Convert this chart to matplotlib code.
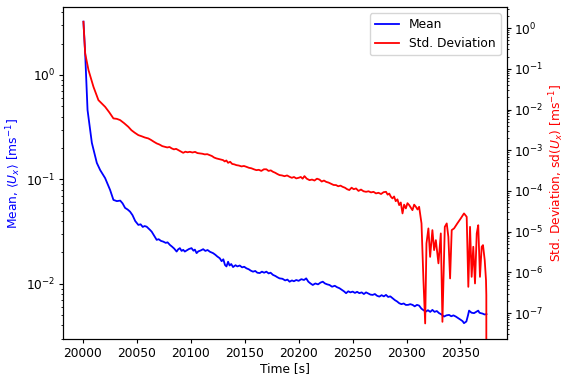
import matplotlib
matplotlib.use('Agg')
import matplotlib.pyplot as plt

# values
mean_time = [20000.5, 20002.1, 20004.3, 20008.3, 20012.9, 20016.0, 20020.6, 20025.2,
             20028.3, 20031.5, 20034.6, 20036.8,
             20039.1, 20041.5, 20043.7, 20046.0, 20048.5, 20051.4, 20053.5, 20055.5,
             20057.2, 20059.1, 20060.8, 20062.2, 20063.8, 20066.0, 20068.4, 20070.2,
             20072.4, 20074.5, 20076.8, 20078.5, 20080.7, 20082.5, 20084.6, 20086.9,
             20088.3, 20089.9, 20091.5, 20093.0, 20094.5, 20096.5, 20098.4, 20100.7,
             20102.5, 20103.8, 20105.4, 20107.0, 20109.2, 20111.5, 20113.5, 20115.6,
             20117.8, 20120.7, 20122.8, 20124.6, 20126.9, 20128.6, 20130.2, 20131.7,
             20133.1, 20134.6, 20136.0, 20137.5, 20139.2, 20141.5, 20143.2, 20145.4,
             20147.6, 20149.5, 20151.6, 20153.8, 20155.6, 20157.7, 20159.8, 20161.7,
             20163.9, 20166.0, 20168.0, 20170.1, 20172.2, 20174.0, 20176.2, 20178.5,
             20180.2, 20182.3, 20185.0, 20187.5, 20189.6, 20191.6, 20193.8, 20195.6,
             20197.8, 20200.0, 20202.5, 20205.0, 20207.0, 20209.0, 20211.0, 20213.1,
             20215.5, 20218.0, 20220.3, 20222.4, 20224.4, 20226.5, 20228.6, 20231.0,
             20233.5, 20235.6, 20237.8, 20239.8, 20242.0, 20244.0, 20246.0, 20248.0,
             20250.1, 20252.2, 20254.2, 20256.3, 20258.4, 20260.5, 20262.5, 20264.5,
             20266.6, 20268.6, 20270.7, 20272.7, 20274.8, 20276.9, 20279.0, 20281.0,
             20283.0, 20285.0, 20287.1, 20289.2, 20291.2, 20293.3, 20295.3, 20297.4,
             20299.4, 20301.5, 20303.5, 20305.6, 20307.6, 20309.7, 20311.7, 20313.8,
             20315.8, 20317.9, 20319.9, 20322.0, 20324.0, 20326.0, 20328.1, 20330.2,
             20332.5, 20334.8, 20337.0, 20339.5, 20341.5, 20343.5, 20345.7, 20348.0,
             20350.3, 20352.0, 20353.3, 20355.5, 20357.0, 20358.0, 20360.3, 20362.6,
             20364.5, 20366.5, 20367.6, 20368.8, 20370.5, 20372.3, 20374.1]
mean_vals = [3.24, 1.61, 0.462, 0.224, 0.144, 0.123, 0.103, 0.0794,
             0.0637, 0.0620, 0.0627, 0.0590,
             0.0534, 0.0515, 0.0492, 0.0455, 0.0400, 0.0367, 0.0372, 0.0351,
             0.0358, 0.0353, 0.0340, 0.0329, 0.0316, 0.0290, 0.0264, 0.0268,
             0.0258, 0.0254, 0.0247, 0.0250, 0.0236, 0.0228, 0.0218, 0.0204,
             0.0214, 0.0220, 0.0207, 0.0212, 0.0204, 0.0210, 0.0216, 0.0220,
             0.0208, 0.0213, 0.0197, 0.0205, 0.0209, 0.0215, 0.0207, 0.0211,
             0.0203, 0.0197, 0.0190, 0.0183, 0.0176, 0.0165, 0.0172, 0.0152,
             0.0147, 0.0163, 0.0150, 0.0155, 0.0145, 0.0151, 0.0147, 0.0150,
             0.0144, 0.0146, 0.0141, 0.0138, 0.0134, 0.0131, 0.0133, 0.0128,
             0.0127, 0.0131, 0.0128, 0.0131, 0.0126, 0.0128, 0.0122, 0.0119,
             0.0116, 0.0113, 0.0112, 0.0108, 0.0110, 0.0105, 0.0108, 0.0106,
             0.0109, 0.0107, 0.0111, 0.0109, 0.0113, 0.0105, 0.0101, 0.00977,
             0.0101, 0.0099, 0.0103, 0.0105, 0.0101, 0.0099, 0.00977, 0.0094,
             0.0096, 0.0093, 0.0091, 0.0088, 0.0085, 0.00815, 0.0085, 0.0083,
             0.00844, 0.0082, 0.0084, 0.00815, 0.0083, 0.0080, 0.0083, 0.0081,
             0.0079, 0.00785, 0.0080, 0.0077, 0.00756, 0.0078, 0.0076, 0.00785,
             0.0075, 0.0076, 0.0073, 0.0070, 0.0068, 0.00653, 0.0064, 0.0065,
             0.00629, 0.0063, 0.0064, 0.0063, 0.0061, 0.0063, 0.0062, 0.0058,
             0.0056, 0.00543, 0.0056, 0.0054, 0.00564, 0.0054, 0.0055, 0.00525,
             0.0051, 0.00487, 0.0050, 0.00505, 0.0049, 0.0050, 0.00487, 0.0047,
             0.00453, 0.0044, 0.00421, 0.00437, 0.0050, 0.00555, 0.0053, 0.00525,
             0.0054, 0.00555, 0.0053, 0.00525, 0.0052, 0.0051, 0.00513]

std_time = [20000.5, 20002.1, 20005.2, 20009.8, 20014.4, 20020.6, 20024.5, 20028.3,
            20031.4, 20034.5, 20038.3, 20042.1, 20045.0, 20048.0, 20051.4, 20054.5,
            20057.5, 20060.6, 20063.0, 20065.7, 20068.4, 20071.0, 20073.6, 20076.1,
            20078.2, 20080.3, 20082.3, 20084.4, 20086.4, 20088.4, 20090.7, 20093.0,
            20095.0, 20097.0, 20099.2, 20101.5, 20104.0, 20106.2, 20108.4, 20110.7,
            20113.0, 20115.3, 20117.6, 20119.6, 20121.7, 20123.8, 20125.8, 20127.9,
            20129.9, 20131.5, 20133.0, 20134.6, 20136.5, 20138.4, 20140.3, 20142.3,
            20144.6, 20147.0, 20149.3, 20151.6, 20153.9, 20156.2, 20158.5, 20160.8,
            20163.1, 20165.4, 20167.8, 20170.1, 20172.1, 20174.2, 20176.2, 20178.2,
            20180.3, 20182.3, 20184.6, 20186.9, 20189.3, 20191.6, 20193.7, 20195.7,
            20197.8, 20200.0, 20202.0, 20203.7, 20205.4, 20207.5, 20210.1, 20212.4,
            20214.7, 20217.0, 20219.3, 20221.4, 20223.5, 20225.5, 20227.8, 20230.1,
            20232.4, 20234.7, 20236.7, 20238.8, 20240.8, 20242.9, 20245.0, 20247.0,
            20249.1, 20251.1, 20253.2, 20255.5, 20257.8, 20260.2, 20262.5, 20264.8,
            20267.1, 20269.4, 20271.7, 20274.0, 20276.4, 20278.7, 20281.0, 20282.5,
            20284.0, 20285.5, 20287.0, 20288.5, 20290.0, 20291.6, 20293.2, 20294.7,
            20296.3, 20297.8, 20299.4, 20300.9, 20302.5, 20304.0, 20305.5, 20307.1,
            20308.7, 20310.2, 20311.7, 20313.9, 20315.7, 20317.3, 20318.5, 20320.3,
            20321.9, 20324.0, 20325.6, 20327.2, 20329.6, 20331.8, 20333.3, 20335.5,
            20337.3, 20338.8, 20340.4, 20341.9, 20344.1, 20347.1, 20350.3, 20353.3,
            20355.8, 20357.3, 20358.9, 20360.4, 20361.9, 20363.5, 20365.1, 20366.5,
            20368.1, 20369.7, 20370.9, 20372.5, 20373.7, 20374.0, 20374.2]
std_vals = [1.43, 0.239, 0.0929, 0.0361, 0.0170, 0.01165, 0.0085, 0.00604,
            0.0059, 0.0055, 0.0046, 0.00376, 0.0031, 0.0027, 0.00235, 0.0022,
            0.00205, 0.00195, 0.0018, 0.00162, 0.00147, 0.00138, 0.00126, 0.00121,
            0.00117, 0.0012, 0.00111, 0.00105, 0.00108, 0.00101, 0.00094, 0.000863,
            0.00092, 0.00089, 0.000914, 0.00088, 0.00091, 0.00085, 0.000834, 0.00082,
            0.00079, 0.00080, 0.000758, 0.00072, 0.00066, 0.000629, 0.00061, 0.00059,
            0.000572, 0.00053, 0.00056, 0.00049, 0.00052, 0.00046, 0.00045, 0.00043,
            0.00042, 0.00040, 0.00041, 0.000391, 0.00037, 0.00036, 0.00034, 0.000324,
            0.00033, 0.00031, 0.00034, 0.00034, 0.00031, 0.00032, 0.000295, 0.00028,
            0.00026, 0.000245, 0.00024, 0.00023, 0.00024, 0.000222, 0.00021, 0.00022,
            0.000203, 0.00021, 0.00022, 0.00020, 0.000231, 0.00020, 0.000184, 0.00019,
            0.00018, 0.00020, 0.00019, 0.00017, 0.00018, 0.000167, 0.00016, 0.00015,
            0.00014, 0.000139, 0.00013, 0.000135, 0.000126, 0.00012, 0.00011, 0.000105,
            0.00012, 0.00011, 0.000115, 0.00010, 0.000108, 9.8e-5, 9.51e-5, 9.8e-5,
            9.2e-5, 9.5e-5, 8.69e-5, 9.0e-5, 8.4e-5, 9.3e-5, 9.51e-5, 8.1e-5,
            8.6e-5, 7.2e-5, 6.55e-5, 7.3e-5, 5.6e-5, 6.2e-5, 4.48e-5, 5.2e-5,
            2.8e-5, 4.6e-5, 3.72e-5, 5.0e-5, 4.48e-5, 3.9e-5, 3.37e-5, 4.6e-5,
            4.07e-5, 3.5e-5, 4.07e-5, 1.59e-5, 6.43e-7, 5.55e-8, 5.13e-6, 1.2e-5,
            2.4e-6, 1.09e-5, 3.51e-6, 6.18e-6, 1.66e-6, 9.03e-6, 6.08e-8, 1.31e-5,
            1.59e-5, 7.45e-6, 7.08e-7, 1.09e-5, 1.2e-5, 1.59e-5, 2.11e-5, 2.8e-5,
            2.31e-5, 4.4e-7, 1.31e-5, 7.75e-7, 4.24e-6, 5.33e-7, 9.03e-6, 1.44e-5,
            7.75e-7, 4.24e-6, 4.66e-6, 2.0e-6, 6.4e-7, 2.75e-7, 0.0]

plt.rcParams['font.size'] = 8.8
plt.rcParams['xtick.major.size'] = 3
plt.rcParams['ytick.major.size'] = 3
plt.rcParams['ytick.minor.size'] = 1.7
plt.rcParams['xtick.major.pad'] = 2.5
plt.rcParams['ytick.major.pad'] = 2.5

fig, ax1 = plt.subplots(figsize=(5.63, 3.77), dpi=100)
fig.subplots_adjust(left=0.1124, right=0.900, bottom=0.1008, top=0.9814)

l1, = ax1.plot(mean_time, mean_vals, color='b', lw=1.3, label='Mean')
ax1.set_yscale('log')
ax1.set_ylim(0.00297, 4.47)
ax1.set_xlabel('Time [s]', labelpad=1.5)
ax1.set_ylabel(r'Mean, $\langle U_x \rangle$ [ms$^{-1}$]', color='b', labelpad=2)

ax2 = ax1.twinx()
l2, = ax2.plot(std_time, std_vals, color='r', lw=1.3, label='Std. Deviation')
ax2.set_yscale('log')
ax2.set_ylim(2.3e-8, 3.3)
ax2.set_ylabel(r'Std. Deviation, sd($U_x$) [ms$^{-1}$]', color='r', labelpad=2)

ax2.legend(handles=[l1, l2], loc='upper right')

fig.savefig('out.png', dpi=100)
